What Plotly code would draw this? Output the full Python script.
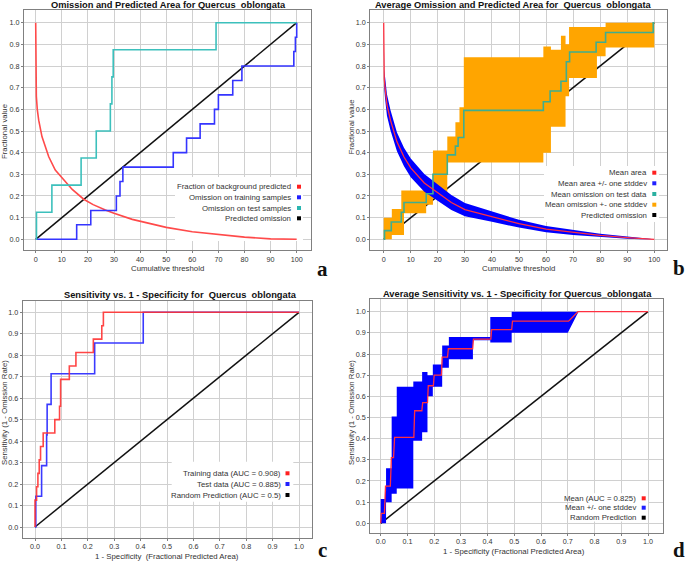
import plotly.graph_objects as go

W, H = 685, 564

# ---------------- data ----------------
# Panel a : omission and predicted area (single run)
a_bg_x = [0, 0, 0.15, 0.25, 0.6, 1.15, 2.4, 5.0, 7.5, 10.3, 14.0, 18.4, 22.0, 26.7, 30.0, 37.0, 45.0, 50.0, 60.0, 70.0, 80.0, 90.0, 95.0, 100.0]
a_bg_y = [1.0, 0.78, 0.74, 0.66, 0.60, 0.55, 0.474, 0.381, 0.32, 0.28, 0.23, 0.185, 0.16, 0.135, 0.12, 0.092, 0.068, 0.055, 0.035, 0.022, 0.01, 0.002, 0.0, 0.0]
a_train_x = [0, 15.7, 21.1, 30.9, 32.3, 33.4, 52.7, 57.8, 63.0, 68.5, 70.0, 75.5, 79.0, 98.9, 99.5, 100]
a_train_y = [0, 0.067, 0.133, 0.2, 0.267, 0.333, 0.4, 0.467, 0.533, 0.6, 0.667, 0.733, 0.8, 0.867, 0.933, 1.0]
a_test_x = [0, 0.3, 6.2, 17.4, 23.2, 28.6, 29.2, 29.7, 69.1, 100]
a_test_y = [0, 0.125, 0.25, 0.375, 0.5, 0.625, 0.75, 0.875, 1.0, 1.0]
pred_thr_x = [0, 100]
pred_thr_y = [0, 1]

# Panel b : average omission and predicted area
b_area_x = [0, 0, 0.2, 0.5, 1.2, 2.5, 4.9, 7.5, 10, 15, 20, 25, 30, 35, 40, 50, 60, 70, 80, 90, 95, 100]
b_area_mean = [1.0, 0.78, 0.74, 0.70, 0.62, 0.55, 0.45, 0.38, 0.33, 0.26, 0.215, 0.17, 0.137, 0.12, 0.105, 0.072, 0.047, 0.031, 0.018, 0.008, 0.003, 0.0]
b_area_sd = [0.0, 0.025, 0.045, 0.05, 0.05, 0.047, 0.043, 0.043, 0.043, 0.041, 0.039, 0.035, 0.031, 0.028, 0.024, 0.018, 0.014, 0.011, 0.008, 0.005, 0.003, 0.0]
b_om_x = [0, 0.3, 2.8, 6.5, 7.5, 15.7, 18.2, 23.5, 26.5, 27.5, 29.6, 59.0, 61.5, 65.5, 67.5, 68.7, 78.5, 82.0, 99.6, 100]
b_om_mean = [0.0, 0.04, 0.08, 0.125, 0.17, 0.21, 0.30, 0.39, 0.43, 0.47, 0.595, 0.635, 0.685, 0.73, 0.82, 0.865, 0.91, 0.955, 1.0, 1.0]
b_band_x = [0, 3.0, 6.5, 7.5, 15.7, 18.2, 23.5, 26.5, 28.0, 29.6, 59.0, 61.8, 65.5, 67.2, 68.5, 78.8, 82.0, 100]
b_band_hi = [0.10, 0.14, 0.225, 0.225, 0.25, 0.41, 0.475, 0.54, 0.61, 0.84, 0.89, 0.875, 0.94, 0.90, 0.98, 0.98, 1.0, 1.0]
b_band_lo = [0.0, 0.02, 0.02, 0.12, 0.16, 0.19, 0.355, 0.355, 0.355, 0.355, 0.40, 0.52, 0.52, 0.66, 0.745, 0.845, 0.885, 0.885]

# Panel c : ROC (single run), step points
c_train_fpr = [0, 0, 0.006, 0.011, 0.016, 0.021, 0.031, 0.075, 0.093, 0.097, 0.13, 0.155, 0.221, 0.253, 0.259, 1.0]
c_train_tpr = [0, 0.125, 0.1875, 0.25, 0.3125, 0.375, 0.4375, 0.5, 0.5625, 0.6875, 0.75, 0.8125, 0.875, 0.9375, 1.0, 1.0]
c_test_fpr = [0, 0.003, 0.025, 0.044, 0.046, 0.061, 0.226, 0.41, 1.0]
c_test_tpr = [0, 0.143, 0.286, 0.429, 0.571, 0.714, 0.857, 1.0, 1.0]
rand_x = [0, 1]
rand_y = [0, 1]

# Panel d : average ROC
d_mean_fpr = [0.000, 0.002, 0.014, 0.018, 0.036, 0.040, 0.048, 0.052, 0.124, 0.127, 0.154, 0.157, 0.175, 0.178, 0.197, 0.200, 0.227, 0.230, 0.250, 0.253, 0.344, 0.347, 0.412, 0.415, 0.490, 0.493, 0.703, 0.738, 1.000]
d_mean_tpr = [0.000, 0.047, 0.047, 0.176, 0.176, 0.31, 0.31, 0.406, 0.406, 0.532, 0.532, 0.57, 0.57, 0.65, 0.65, 0.70, 0.70, 0.785, 0.785, 0.825, 0.825, 0.87, 0.87, 0.915, 0.915, 0.955, 0.955, 1.0, 1.0]
d_lo_fpr = [0, 0.02, 0.02, 0.041, 0.041, 0.06, 0.06, 0.122, 0.122, 0.155, 0.155, 0.175, 0.175, 0.195, 0.195, 0.23, 0.23, 0.255, 0.255, 0.345, 0.345, 0.41, 0.41, 0.49, 0.49, 0.70, 0.74, 1.0]
d_lo_tpr = [0, 0, 0.10, 0.10, 0.14, 0.14, 0.165, 0.165, 0.39, 0.39, 0.43, 0.43, 0.60, 0.60, 0.645, 0.645, 0.735, 0.735, 0.775, 0.775, 0.865, 0.865, 0.855, 0.855, 0.90, 0.90, 1.0, 1.0]
d_hi_fpr = [0, 0.016, 0.02, 0.041, 0.06, 0.122, 0.155, 0.175, 0.195, 0.23, 0.255, 0.345, 0.41, 0.49, 1.0]
d_hi_tpr = [0.115, 0.15, 0.26, 0.505, 0.645, 0.67, 0.715, 0.70, 0.75, 0.84, 0.88, 0.88, 0.975, 1.0, 1.0]

# ticks
thr_ticks = [0, 10, 20, 30, 40, 50, 60, 70, 80, 90, 100]
thr_labels = ["0", "10", "20", "30", "40", "50", "60", "70", "80", "90", "100"]
frac_ticks = [0.0, 0.1, 0.2, 0.3, 0.4, 0.5, 0.6, 0.7, 0.8, 0.9, 1.0]
frac_labels = ["0.0", "0.1", "0.2", "0.3", "0.4", "0.5", "0.6", "0.7", "0.8", "0.9", "1.0"]

NB = "\u00a0"
titles = [
    "Omission and Predicted Area for Quercus" + NB + " oblongata",
    "Average Omission and Predicted Area for" + NB + " Quercus" + NB + " oblongata",
    "Sensitivity vs. 1 - Specificity for" + NB + " Quercus" + NB + " oblongata",
    "Average Sensitivity vs. 1 - Specificity for Quercus_oblongata",
]
xtitles = ["Cumulative threshold", "Cumulative threshold",
           "1 - Specificity" + NB + " (Fractional Predicted Area)",
           "1 - Specificity (Fractional Predicted Area)"]
ytitles = ["Fractional value", "Fractional value",
           "Sensitivity (1 - Omission Rate)", "Sensitivity (1 - Omission Rate)"]
legends = [
    ["Fraction of background predicted", "Omission on training samples",
     "Omission on test samples", "Predicted omission"],
    ["Mean area", "Mean area +/- one stddev", "Mean omission on test data",
     "Mean omission +- one stddev", "Predicted omission"],
    ["Training data (AUC = 0.908)", "Test data (AUC = 0.885)", "Random Prediction (AUC = 0.5)"],
    ["Mean (AUC = 0.825)", "Mean +/- one stddev", "Random Prediction"],
]
legend_colors = [
    ["#ff2020", "#2020ff", "#2ab5b0", "#000000"],
    ["#ff2020", "#2020ff", "#2ab0a0", "#ffa500", "#000000"],
    ["#ff2020", "#2020ff", "#000000"],
    ["#ff2020", "#2020ff", "#000000"],
]
letters = ["a", "b", "c", "d"]

# ---------------- layout geometry (pixels) ----------------
PANELS = [
    dict(frame=(24.0, 310.7, 10.0, 250.0), xcal=(0, 35.7, 100, 296.7), ycal=(0, 239.3, 1, 22.7),
         title=(168, 5), xt=(167, 268), yt=(4, 132), letter=(322, 269),
         legbox=(175, 177, 303, 241), legx=292.7, legy=[186.7, 197.3, 208.0, 218.3], mx=299.0),
    dict(frame=(370.3, 667.0, 10.0, 250.0), xcal=(0, 383.7, 100, 654.3), ycal=(0, 239.3, 1, 22.7),
         title=(513, 5), xt=(518.7, 268), yt=(350.5, 127), letter=(679, 268),
         legbox=(544, 166, 659, 222), legx=648.5, legy=[172.7, 183.3, 194.0, 204.7, 215.0], mx=654.3),
    dict(frame=(22.7, 311.7, 300.7, 537.7), xcal=(0, 35.0, 1, 299.0), ycal=(0, 527.0, 1, 312.3),
         title=(180.5, 294.7), xt=(167, 556.7), yt=(4, 413), letter=(322, 550),
         legbox=(171.7, 461.7, 293.3, 501.7), legx=282.7, legy=[473.3, 484.0, 495.0], mx=287.5),
    dict(frame=(370.3, 662.7, 299.3, 532.7), xcal=(0, 380.7, 1, 648.0), ycal=(0, 523.3, 1, 311.7),
         title=(517.5, 294), xt=(513.7, 551.7), yt=(351, 413), letter=(679, 550),
         legbox=(573.7, 493.3, 648, 521.5), legx=638.0, legy=[498.3, 507.7, 517.7], mx=643.7),
]


def to_val(cal, p):
    v0, p0, v1, p1 = cal
    return v0 + (p - p0) * (v1 - v0) / (p1 - p0)


def px(x):
    return x / W


def py(y):
    return 1 - y / H


FONT = "Liberation Sans, Arial, sans-serif"
GRID = "#d0d0d0"
FRAME = "#808080"
TXT = "#333333"

fig = go.Figure()


def ax(i):
    s = "" if i == 0 else str(i + 1)
    return "x" + s, "y" + s


# ---- panel a traces
xa, ya = ax(0)
fig.add_trace(go.Scatter(x=pred_thr_x, y=pred_thr_y, mode="lines", line=dict(color="#111111", width=1.5), xaxis=xa, yaxis=ya))
fig.add_trace(go.Scatter(x=a_bg_x, y=a_bg_y, mode="lines", line=dict(color="#ff4a4a", width=1.6), xaxis=xa, yaxis=ya))
fig.add_trace(go.Scatter(x=a_train_x, y=a_train_y, mode="lines", line=dict(color="#3535ff", width=1.6, shape="hv"), xaxis=xa, yaxis=ya))
fig.add_trace(go.Scatter(x=a_test_x, y=a_test_y, mode="lines", line=dict(color="#3cc0bc", width=1.6, shape="hv"), xaxis=xa, yaxis=ya))

# ---- panel b traces
xb, yb = ax(1)
fig.add_trace(go.Scatter(x=pred_thr_x, y=pred_thr_y, mode="lines", line=dict(color="#111111", width=1.5), xaxis=xb, yaxis=yb))
fig.add_trace(go.Scatter(x=b_band_x, y=b_band_lo, mode="lines", line=dict(width=0, shape="hv", color="#ffa500"), xaxis=xb, yaxis=yb))
fig.add_trace(go.Scatter(x=b_band_x, y=b_band_hi, mode="lines", line=dict(width=0, shape="hv", color="#ffa500"),
                         fill="tonexty", fillcolor="#ffa500", xaxis=xb, yaxis=yb))
area_lo = [m - s for m, s in zip(b_area_mean, b_area_sd)]
area_hi = [m + s for m, s in zip(b_area_mean, b_area_sd)]
fig.add_trace(go.Scatter(x=b_area_x, y=area_lo, mode="lines", line=dict(width=0, color="#0000ff"), xaxis=xb, yaxis=yb))
fig.add_trace(go.Scatter(x=b_area_x, y=area_hi, mode="lines", line=dict(width=0, color="#0000ff"),
                         fill="tonexty", fillcolor="#0000ff", xaxis=xb, yaxis=yb))
fig.add_trace(go.Scatter(x=b_om_x, y=b_om_mean, mode="lines", line=dict(color="#3fae8f", width=1.6, shape="hv"), xaxis=xb, yaxis=yb))
fig.add_trace(go.Scatter(x=b_area_x, y=b_area_mean, mode="lines", line=dict(color="#ff3040", width=1.3), xaxis=xb, yaxis=yb))

# ---- panel c traces
xc, yc = ax(2)
fig.add_trace(go.Scatter(x=rand_x, y=rand_y, mode="lines", line=dict(color="#111111", width=1.5), xaxis=xc, yaxis=yc))
fig.add_trace(go.Scatter(x=c_test_fpr, y=c_test_tpr, mode="lines", line=dict(color="#3a3aff", width=1.6, shape="hv"), xaxis=xc, yaxis=yc))
fig.add_trace(go.Scatter(x=c_train_fpr, y=c_train_tpr, mode="lines", line=dict(color="rgba(255,50,50,0.9)", width=1.6, shape="hv"), xaxis=xc, yaxis=yc))

# ---- panel d traces
xd, yd = ax(3)
fig.add_trace(go.Scatter(x=rand_x, y=rand_y, mode="lines", line=dict(color="#111111", width=1.5), xaxis=xd, yaxis=yd))
fig.add_trace(go.Scatter(x=d_lo_fpr, y=d_lo_tpr, mode="lines", line=dict(width=0, color="#0000ff"), xaxis=xd, yaxis=yd))
fig.add_trace(go.Scatter(x=d_hi_fpr, y=d_hi_tpr, mode="lines", line=dict(width=0, shape="hv", color="#0000ff"),
                         fill="tonexty", fillcolor="#0000ff", xaxis=xd, yaxis=yd))
fig.add_trace(go.Scatter(x=d_mean_fpr, y=d_mean_tpr, mode="lines", line=dict(color="#ff3040", width=1.3), xaxis=xd, yaxis=yd))

# ---------------- axes, annotations, shapes ----------------
layout = dict(width=W, height=H, margin=dict(l=0, r=0, t=0, b=0), showlegend=False,
              paper_bgcolor="white", plot_bgcolor="white", font=dict(family=FONT, color=TXT))
annotations = []
shapes = []

for i, P in enumerate(PANELS):
    s = "" if i == 0 else str(i + 1)
    L, R, T, B = P["frame"]
    xr = [to_val(P["xcal"], L), to_val(P["xcal"], R)]
    yr = [to_val(P["ycal"], B), to_val(P["ycal"], T)]
    if i < 2:
        xtv, xtt = thr_ticks, thr_labels
    else:
        xtv, xtt = frac_ticks, frac_labels
    common = dict(showgrid=True, gridcolor=GRID, gridwidth=1.2, showline=True, mirror=True,
                  linecolor=FRAME, linewidth=1, ticks="outside", ticklen=2, tickcolor=FRAME,
                  tickfont=dict(family=FONT, size=7.2, color=TXT), zeroline=False, fixedrange=True)
    layout["xaxis" + s] = dict(domain=[L / W, R / W], range=xr, anchor="y" + s,
                               tickmode="array", tickvals=xtv, ticktext=xtt, **common)
    layout["yaxis" + s] = dict(domain=[1 - B / H, 1 - T / H], range=yr, anchor="x" + s,
                               tickmode="array", tickvals=frac_ticks, ticktext=frac_labels, **common)

    # title
    annotations.append(dict(text="<b>" + titles[i] + "</b>", x=px(P["title"][0]), y=py(P["title"][1]),
                            xref="paper", yref="paper", showarrow=False, xanchor="center", yanchor="middle",
                            font=dict(family=FONT, size=9.3, color="#111111")))
    # axis titles
    annotations.append(dict(text=xtitles[i], x=px(P["xt"][0]), y=py(P["xt"][1]), xref="paper", yref="paper",
                            showarrow=False, xanchor="center", yanchor="middle",
                            font=dict(family=FONT, size=7.8, color=TXT)))
    annotations.append(dict(text=ytitles[i], x=px(P["yt"][0]), y=py(P["yt"][1]), xref="paper", yref="paper",
                            showarrow=False, xanchor="center", yanchor="middle", textangle=-90,
                            font=dict(family=FONT, size=7.8, color=TXT)))
    # panel letter
    annotations.append(dict(text="<b>" + letters[i] + "</b>", x=px(P["letter"][0]), y=py(P["letter"][1]),
                            xref="paper", yref="paper", showarrow=False, xanchor="center", yanchor="middle",
                            font=dict(family="Liberation Serif, Times New Roman, serif", size=21, color="#111111")))
    # legend background
    bx0, by0, bx1, by1 = P["legbox"]
    shapes.append(dict(type="rect", xref="x" + s, yref="y" + s,
                       x0=to_val(P["xcal"], bx0), x1=to_val(P["xcal"], bx1),
                       y0=to_val(P["ycal"], by1), y1=to_val(P["ycal"], by0),
                       fillcolor="white", line=dict(width=0), layer="between"))
    # legend entries
    for txt, col, ly in zip(legends[i], legend_colors[i], P["legy"]):
        annotations.append(dict(text=txt, x=px(P["legx"]), y=py(ly), xref="paper", yref="paper",
                                showarrow=False, xanchor="right", yanchor="middle",
                                font=dict(family=FONT, size=7.8, color=TXT)))
        m = P["mx"]
        shapes.append(dict(type="rect", xref="paper", yref="paper",
                           x0=px(m - 2), x1=px(m + 2), y0=py(ly + 2), y1=py(ly - 2),
                           fillcolor=col, line=dict(width=0), layer="above"))

layout["annotations"] = annotations
layout["shapes"] = shapes
fig.update_layout(**layout)
fig.write_html("out.html", config={"displayModeBar": False},
               post_script="document.body.style.margin='0';document.body.style.overflow='hidden';")
